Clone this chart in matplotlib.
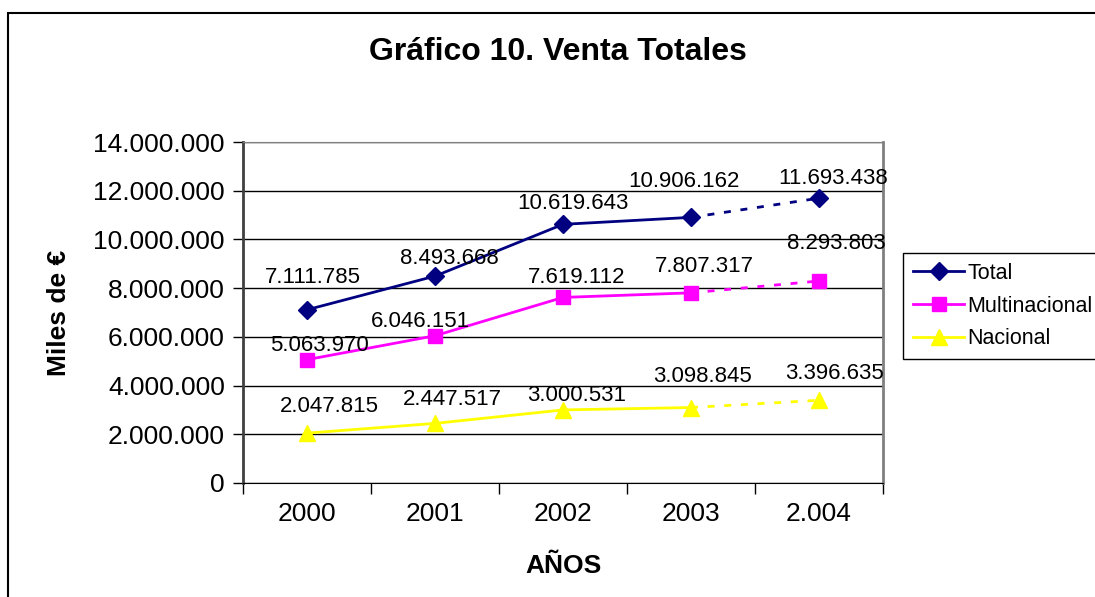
import matplotlib
matplotlib.use('Agg')
import matplotlib.pyplot as plt
from matplotlib.patches import Rectangle
from matplotlib.ticker import FuncFormatter, FixedLocator

plt.rcParams['font.family'] = ['Liberation Sans', 'DejaVu Sans']

# data
years = ['2000', '2001', '2002', '2003', '2.004']
total = [7111785, 8493668, 10619643, 10906162, 11693438]
multinacional = [5063970, 6046151, 7619112, 7807317, 8293803]
nacional = [2047815, 2447517, 3000531, 3098845, 3396635]

series = [('Total', total, '#000080', 'D', 9),
          ('Multinacional', multinacional, '#FF00FF', 's', 10),
          ('Nacional', nacional, '#FFFF00', '^', 11)]

# label offsets in pixels (dx, dy) relative to each point
label_offsets = {
    'Total': [(6, 32), (14, 18), (10, 21), (-7, 36), (14, 20)],
    'Multinacional': [(12, 14), (-15, 14), (14, 20), (13, 26), (17, 37)],
    'Nacional': [(22, 27), (17, 24), (14, 14), (11, 31), (15, 27)],
}

W, H = 1095, 597
fig = plt.figure(figsize=(W / 100, H / 100), dpi=100)
ax = fig.add_axes([243 / W, 1 - 483 / H, (883 - 243) / W, (483 - 142) / H])

# outer chart border (runs off the right and bottom edges)
fig.patches.append(Rectangle((8 / W, -0.05), 1.1, 1 - 13 / H + 0.05,
                             transform=fig.transFigure, fill=False,
                             edgecolor='black', linewidth=1.5, zorder=0))

x = list(range(len(years)))
handles = []
for name, vals, col, mk, ms in series:
    ax.plot(x[:4], vals[:4], color=col, lw=2, zorder=3)
    ax.plot(x[3:], vals[3:], color=col, lw=2, ls=(0, (2.5, 3.5)), zorder=3)
    ax.plot(x, vals, ls='none', marker=mk, ms=ms, color=col,
            markeredgecolor=col, zorder=4)
    for xi, v, (dx, dy) in zip(x, vals, label_offsets[name]):
        s = '{:,}'.format(v).replace(',', '.')
        ax.annotate(s, (xi, v), xytext=(dx, dy), textcoords='offset pixels',
                    ha='center', va='center', fontsize=16, zorder=5)
    handles.append(plt.Line2D([], [], color=col, lw=2, marker=mk, ms=ms,
                              markeredgecolor=col, label=name))

ax.set_xlim(-0.5, 4.5)
ax.set_ylim(0, 14000000)
ax.yaxis.set_major_locator(FixedLocator(range(0, 14000001, 2000000)))
ax.yaxis.set_major_formatter(FuncFormatter(lambda v, p: '{:,.0f}'.format(v).replace(',', '.')))
ax.grid(axis='y', color='black', lw=1)
ax.set_axisbelow(True)

# category ticks between categories, labels centred
ax.set_xticks([i - 0.5 for i in range(len(years) + 1)])
ax.set_xticklabels([])
ax.set_xticks(x, minor=True)
ax.set_xticklabels(years, minor=True)
ax.tick_params(axis='x', which='major', length=8, width=1, direction='out')
ax.tick_params(axis='x', which='minor', length=0, pad=14, labelsize=19)
ax.tick_params(axis='y', length=7, width=1, direction='out', pad=6, labelsize=19)

ax.spines['left'].set_color('#404040')
ax.spines['left'].set_linewidth(2)
ax.spines['bottom'].set_color('black')
ax.spines['top'].set_color('#808080')
ax.spines['right'].set_color('#808080')
ax.spines['right'].set_linewidth(2)

ax.set_xlabel('AÑOS', fontsize=19, fontweight='bold', labelpad=20)
ax.set_ylabel('Miles de €', fontsize=19, fontweight='bold', labelpad=16)
fig.text(558 / W, 1 - 52 / H, 'Gráfico 10. Venta Totales', ha='center',
         va='center', fontsize=23, fontweight='bold')

leg = fig.legend(handles=handles, loc='upper left',
                 bbox_to_anchor=(903 / W, 1 - 253 / H), fontsize=15.5,
                 frameon=True, fancybox=False, edgecolor='black',
                 framealpha=1, handlelength=2.4, handletextpad=0.15,
                 borderpad=0.45, labelspacing=0.55, borderaxespad=0)
leg.get_frame().set_linewidth(1)

fig.savefig('out.png', dpi=100)
